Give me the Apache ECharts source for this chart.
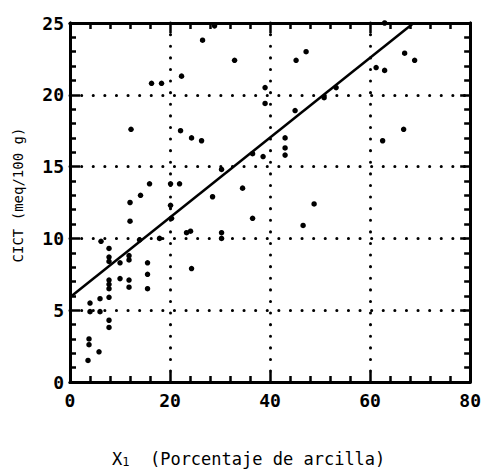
<!DOCTYPE html>
<html><head><meta charset="utf-8">
<script src="https://cdn.jsdelivr.net/npm/echarts@6/dist/echarts.min.js"></script>
<style>html,body{margin:0;padding:0;background:#fff}#c{width:484px;height:476px}</style>
</head><body><div id="c"></div>
<script>
// Percentage of clay (x) vs CICT (y)
var clayX = [3.6,3.8,3.8,5.8,7.8,7.8,4.0,4.0,6.0,6.0,7.8,7.8,7.8,7.8,7.8,7.8,7.8,6.2,10.0,10.0,11.8,11.8,11.8,11.8,15.5,15.5,15.5,13.9,17.9,12.0,12.0,14.1,15.9,20.1,21.9,20.1,20.3,23.3,24.1,24.3,28.5,30.3,30.3,30.3,12.2,22.1,24.3,26.3,16.3,18.3,22.3,26.5,28.9,32.9,34.5,36.5,36.5,38.6,39.0,39.0,43.0,43.0,43.0,45.0,45.2,47.2,46.6,48.8,50.8,53.2,61.2,62.9,62.9,66.9,68.9,66.7,62.5];
var cictY = [1.5,3.0,2.6,2.1,4.3,3.8,5.5,4.9,5.8,4.9,5.9,7.1,6.8,6.5,9.3,8.7,8.4,9.8,8.3,7.2,8.8,8.5,7.1,6.6,8.3,7.5,6.5,9.9,10.0,11.2,12.5,13.0,13.8,13.8,13.8,12.3,11.4,10.4,10.5,7.9,12.9,10.4,10.0,14.8,17.6,17.5,17.0,16.8,20.8,20.8,21.3,23.8,24.8,22.4,13.5,11.4,15.9,15.7,20.5,19.4,17.0,16.3,15.8,18.9,22.4,23.0,10.9,12.4,19.8,20.5,21.9,21.7,25.0,22.9,22.4,17.6,16.8];
// Regression line endpoints
var fitX = [0, 68.7];
var fitY = [5.9, 25];
var xTicks = [0,20,40,60,80];
var yTicks = [0,5,10,15,20,25];

var pts = clayX.map(function(x,i){return [x,cictY[i]];});
var fit = fitX.map(function(x,i){return [x,fitY[i]];});

var lab = {color:'#000', fontFamily:'DejaVu Sans Mono', fontWeight:'bold', fontSize:18};
var axisLine = {show:true, onZero:false, lineStyle:{color:'#000', width:3}};
var tick = {show:true, inside:true, length:10, lineStyle:{color:'#000', width:2.5}};
var minor = {show:true, splitNumber:5, length:6, lineStyle:{color:'#000', width:2.5}};
var dotted = {show:true, lineStyle:{color:'#000', width:3, type:[0.1,11.5], cap:'round'}};

var chart = echarts.init(document.getElementById('c'), null, {renderer:'svg'});
chart.setOption({
  animation:false,
  backgroundColor:'#fff',
  grid:{left:70, right:13, top:23, bottom:94},
  xAxis:[
    {type:'value', min:0, max:80, interval:20, position:'bottom',
     axisLine:axisLine, axisTick:tick, minorTick:minor,
     axisLabel:Object.assign({margin:9}, lab),
     splitLine:dotted},
    {type:'value', min:0, max:80, interval:20, position:'top',
     axisLine:axisLine, axisTick:tick, minorTick:minor, axisLabel:{show:false}, splitLine:{show:false}}
  ],
  yAxis:[
    {type:'value', min:0, max:25, interval:5, position:'left',
     axisLine:axisLine, axisTick:tick, minorTick:minor,
     axisLabel:Object.assign({margin:6}, lab),
     splitLine:dotted},
    {type:'value', min:0, max:25, interval:5, position:'right',
     axisLine:axisLine, axisTick:tick, minorTick:minor, axisLabel:{show:false}, splitLine:{show:false}}
  ],
  graphic:[
    {type:'text', left:112, top:450, style:{
      text:'{x|X}{s|1}{t|  (Porcentaje de arcilla)}',
      rich:{
        x:{fontFamily:'DejaVu Sans Mono', fontSize:17, fill:'#000', color:'#000'},
        s:{fontFamily:'DejaVu Sans Mono', fontSize:12, fill:'#000', color:'#000', padding:[7,0,0,0]},
        t:{fontFamily:'DejaVu Sans Mono', fontSize:17, fill:'#000', color:'#000'}
      }}},
    {type:'text', x:18, y:195, rotation:Math.PI/2, style:{
      text:'CICT (meq/100 g)', fontFamily:'DejaVu Sans Mono', fontSize:14, fill:'#000',
      textAlign:'center', textVerticalAlign:'middle'}}
  ],
  series:[
    {type:'scatter', data:pts, symbol:'circle', symbolSize:5.5,
     itemStyle:{color:'#000', opacity:1}, xAxisIndex:0, yAxisIndex:0, z:3},
    {type:'line', data:fit, symbol:'none', lineStyle:{color:'#000', width:2.5},
     xAxisIndex:0, yAxisIndex:0, z:4}
  ]
});
</script></body></html>
